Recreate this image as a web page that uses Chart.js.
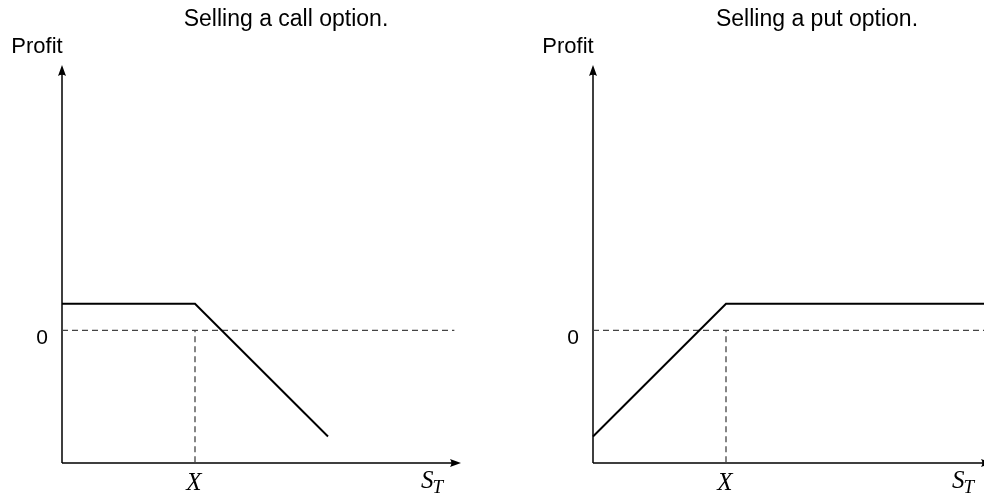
<!DOCTYPE html>
<html>
<head>
<meta charset="utf-8">
<script src="https://cdn.jsdelivr.net/npm/chart.js@4/dist/chart.umd.min.js"></script>
<style>
  html, body { margin: 0; padding: 0; background: #fff; }
  #wrap { position: relative; width: 984px; height: 497px; overflow: hidden; background: #fff; }
  canvas { position: absolute; top: 0; }
</style>
</head>
<body>
<div id="wrap">
  <canvas id="callChart" width="531" height="497" style="left:0px"></canvas>
  <canvas id="putChart" width="531" height="497" style="left:531px"></canvas>
</div>
<script>
// Axis extents (share price on x, profit on y)
const spotRange = [0, 15];
const profitRange = [-5, 10];

// Strike price and the premium received by the writer
const strike = 5;
const premium = 1;

// Profit of a short call: premium kept below the strike, losses above it
const callSpot = [0, 5, 10];
const callProfit = [1, 1, -4];

// Profit of a short put: losses below the strike, premium kept above it
const putSpot = [0, 5, 15];
const putProfit = [-4, 1, 1];

// Break-even reference line and the strike guide
const zeroLineSpot = [0, 14.75];
const zeroLineProfit = [0, 0];
const strikeGuideSpot = [strike, strike];
const strikeGuideProfit = [0, -5];

// Text
const titles = ['Selling a call option.', 'Selling a put option.'];
const yAxisLabel = 'Profit';
const yTickLabel = '0';
const xTickLabel = 'X';
const xAxisLabel = ['S', 'T'];

const toPoints = (xs, ys) => xs.map((v, i) => ({ x: v, y: ys[i] }));

function arrowHead(ctx, tipX, tipY, dirX, dirY) {
  const len = 11, half = 4;
  const bx = tipX - dirX * len, by = tipY - dirY * len;
  const px = -dirY, py = dirX;
  ctx.beginPath();
  ctx.moveTo(tipX, tipY);
  ctx.lineTo(bx + px * half, by + py * half);
  ctx.quadraticCurveTo(tipX - dirX * len * 0.75, tipY - dirY * len * 0.75, bx - px * half, by - py * half);
  ctx.closePath();
  ctx.fill();
}

// Draws the arrowed axes and the axis/tick labels from the chart scales
const payoffAxes = {
  id: 'payoffAxes',
  beforeDatasetsDraw(chart) {
    const { ctx, scales: { x, y } } = chart;
    const x0 = x.getPixelForValue(spotRange[0]);
    const x1 = x.getPixelForValue(spotRange[1]);
    const y0 = y.getPixelForValue(profitRange[0]);
    const y1 = y.getPixelForValue(profitRange[1]);
    ctx.save();
    ctx.strokeStyle = '#000';
    ctx.fillStyle = '#000';
    ctx.lineWidth = 1.5;
    ctx.beginPath();
    ctx.moveTo(x0, y0);
    ctx.lineTo(x1 - 6, y0);
    ctx.moveTo(x0, y0);
    ctx.lineTo(x0, y1 + 6);
    ctx.stroke();
    arrowHead(ctx, x1, y0, 1, 0);
    arrowHead(ctx, x0, y1, 0, -1);
    ctx.restore();
  },
  afterDraw(chart, args, opts) {
    const { ctx, scales: { x, y } } = chart;
    const x0 = x.getPixelForValue(spotRange[0]);
    const x1 = x.getPixelForValue(spotRange[1]);
    const y0 = y.getPixelForValue(profitRange[0]);
    const y1 = y.getPixelForValue(profitRange[1]);
    const xs = x.getPixelForValue(strike);
    const yz = y.getPixelForValue(0);
    ctx.save();
    ctx.fillStyle = '#000';
    ctx.textBaseline = 'alphabetic';

    ctx.font = '23px "Liberation Sans", Arial, sans-serif';
    ctx.textAlign = 'center';
    ctx.fillText(opts.title, x0 + 224, y1 - 39);

    ctx.font = '22px "Liberation Sans", Arial, sans-serif';
    ctx.fillText(yAxisLabel, x0 - 25, y1 - 12);

    ctx.textAlign = 'right';
    ctx.font = '21px "Liberation Sans", Arial, sans-serif';
    ctx.fillText(yTickLabel, x0 - 14, yz + 14);

    ctx.textAlign = 'center';
    ctx.font = 'italic 25px "Liberation Serif", "Times New Roman", serif';
    ctx.fillText(xTickLabel, xs - 1, y0 + 27);

    ctx.textAlign = 'left';
    ctx.font = 'italic 25px "Liberation Serif", "Times New Roman", serif';
    const sx = x1 - 40;
    ctx.fillText(xAxisLabel[0], sx, y0 + 25);
    const sw = ctx.measureText(xAxisLabel[0]).width;
    ctx.font = 'italic 19px "Liberation Serif", "Times New Roman", serif';
    ctx.fillText(xAxisLabel[1], sx + sw - 1, y0 + 30);
    ctx.restore();
  }
};

function makeChart(canvasId, title, spot, profit) {
  const dashed = {
    showLine: true,
    borderColor: '#444',
    borderWidth: 1.3,
    borderDash: [6, 4],
    pointRadius: 0,
    clip: false
  };
  return new Chart(document.getElementById(canvasId), {
    type: 'scatter',
    data: {
      datasets: [
        {
          data: toPoints(spot, profit),
          showLine: true,
          borderColor: '#000',
          borderWidth: 2,
          pointRadius: 0,
          clip: false
        },
        Object.assign({ data: toPoints(zeroLineSpot, zeroLineProfit) }, dashed),
        Object.assign({ data: toPoints(strikeGuideSpot, strikeGuideProfit), borderDashOffset: 4 }, dashed)
      ]
    },
    options: {
      responsive: false,
      animation: false,
      devicePixelRatio: 1,
      events: [],
      layout: { padding: { left: 62, right: 70, top: 65, bottom: 34 } },
      scales: {
        x: { type: 'linear', min: spotRange[0], max: spotRange[1], display: false },
        y: { type: 'linear', min: profitRange[0], max: profitRange[1], display: false }
      },
      plugins: {
        legend: { display: false },
        tooltip: { enabled: false },
        payoffAxes: { title: title }
      }
    },
    plugins: [payoffAxes]
  });
}

makeChart('callChart', titles[0], callSpot, callProfit);
makeChart('putChart', titles[1], putSpot, putProfit);
</script>
</body>
</html>
